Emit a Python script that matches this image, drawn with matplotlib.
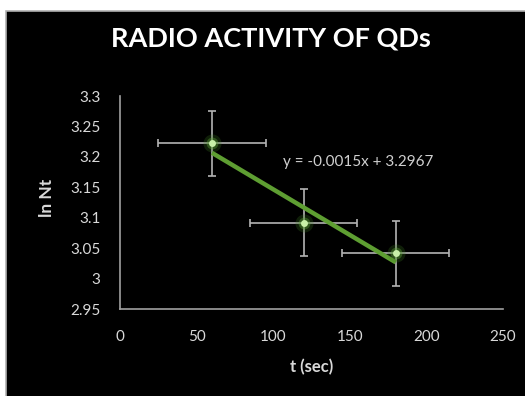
import numpy as np
import matplotlib.pyplot as plt
from matplotlib.patches import Rectangle

# datos
t = [60, 120, 180]
ln_nt = [3.222, 3.092, 3.0415]
t_err = [35, 35, 35]
ln_err = [0.054, 0.055, 0.053]

# linea de tendencia (del rotulo)
pendiente = -0.0015
ordenada = 3.2967

x_ticks = [0, 50, 100, 150, 200, 250]
y_ticks = [2.95, 3, 3.05, 3.1, 3.15, 3.2, 3.25, 3.3]
y_labels = ["2.95", "3", "3.05", "3.1", "3.15", "3.2", "3.25", "3.3"]

plt.rcParams['font.family'] = ['Lato', 'DejaVu Sans']

fig = plt.figure(figsize=(5.25, 3.96), dpi=100, facecolor='white')
# fondo negro con borde gris
fig.patches.append(Rectangle((6 / 525, -0.01), 1, 1 - 11 / 396 + 0.01,
                             transform=fig.transFigure, facecolor='black',
                             edgecolor='#b0b0b0', linewidth=1.2, zorder=-10))

ax = fig.add_axes([120 / 525, 1 - 309 / 396, 383 / 525, 213 / 396])
ax.patch.set_alpha(0)

ax.errorbar(t, ln_nt, yerr=ln_err, xerr=t_err, fmt='none', ecolor='#b4b4b4',
            elinewidth=1.2, capsize=3, capthick=1.2, zorder=2)

continuo = np.linspace(t[0], t[-1], 50)
ax.plot(continuo, pendiente * continuo + ordenada, color='#5e9e32', linewidth=3.2,
        solid_capstyle='butt', zorder=3)

# brillo de los puntos
ax.plot(t, ln_nt, 'o', markersize=13, color='#3f7f22', alpha=0.25, markeredgewidth=0, zorder=4)
ax.plot(t, ln_nt, 'o', markersize=8.5, color='#5fa838', alpha=0.4, markeredgewidth=0, zorder=4)
ax.plot(t, ln_nt, 'o', markersize=5, color='#c8f0a8', markeredgewidth=0, zorder=5)

ax.text(106.4, 3.1915, "y = -0.0015x + 3.2967", color='#d0d0d0', fontsize=11,
        va='center', ha='left')

ax.set_xlim(0, 250)
ax.set_ylim(2.95, 3.3)
ax.set_xticks(x_ticks)
ax.set_yticks(y_ticks)
ax.set_yticklabels(y_labels)
ax.tick_params(length=0, colors='#d9d9d9', labelsize=11)
ax.tick_params(axis='x', pad=15)
ax.tick_params(axis='y', pad=14)
for lado in ['top', 'right']:
    ax.spines[lado].set_visible(False)
for lado in ['left', 'bottom']:
    ax.spines[lado].set_color('#a0a0a0')
    ax.spines[lado].set_linewidth(1.2)

ax.set_xlabel("t (sec)", color='#d9d9d9', fontsize=12, fontweight='bold', labelpad=11)
fig.text(47 / 525, 1 - 198 / 396, "ln Nt", color='#d9d9d9', fontsize=12.5,
         fontweight='bold', rotation=90, ha='center', va='center')
fig.text(271 / 525, 1 - 39 / 396, "RADIO ACTIVITY OF QDs", color='white',
         fontsize=19.5, fontweight='bold', ha='center', va='center')

fig.savefig("out.png", dpi=100, facecolor='white')
